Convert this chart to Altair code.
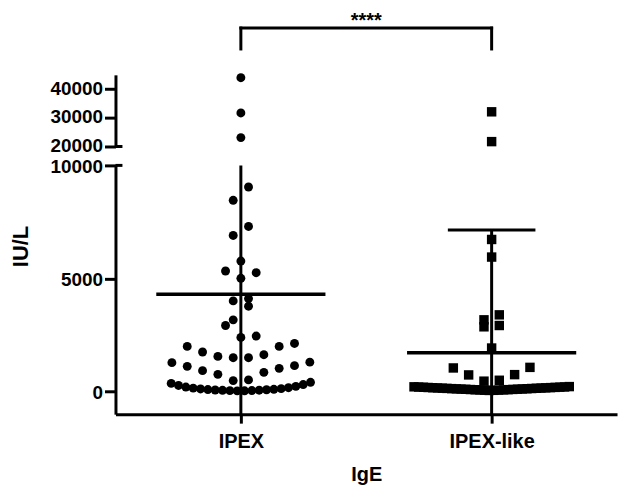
import json
import altair as alt
import pandas as pd

# ---------------- data ----------------
groups = ["IPEX", "IPEX-like"]
ipex_values = [
    44000, 31700, 23100,
    9044, 8458, 7300, 6903, 5771, 5330, 5256, 5009, 4110, 4009, 3775, 3172,
    2921, 2454, 2392, 2128, 1996, 1996, 1749, 1630, 1555, 1498, 1498,
    1300, 1278, 1145, 1115, 1026, 925, 850, 762, 515, 485,
    410, 360, 310, 270, 230, 200, 170, 150, 130, 115, 100, 90, 80, 70,
    60, 55, 45, 40, 35, 30,
]
ipex_like_values = [
    32100, 21700,
    6725, 5947, 3392, 3172, 2921, 2863, 1925, 1070, 1044, 749, 736, 500, 460,
    220, 210, 205, 200, 195, 190, 185, 180, 175, 170, 165, 160, 155, 150,
    145, 140, 135, 130, 125, 120, 115, 110, 105, 100, 95, 90, 85, 80, 75,
    70, 65, 60, 55, 50,
]
group_means = [4300, 1720]
group_sds = [9000, 5420]
upper_ticks = [20000, 30000, 40000]
lower_ticks = [0, 5000, 10000]
significance = "****"

# ---------------- layout constants ----------------
W = 504
H_UP, H_LOW = 72, 250
UP_DOM = [20000, 45000]
LOW_DOM = [-1000, 10000]
X_DOM = [-0.5, 1.5]
PX_PER_X = W / (X_DOM[1] - X_DOM[0])
ROW_PX = 20            # height of a swarm row, in pixels
ROW_ORIGIN = -440      # value where the lower swarm rows start
DOT_STEP_PX = 15.4     # horizontal step between dots of a row
MAX_HALF_PX = [70, 78]  # half-width limit of a row, per group
MEAN_HALF = 85 / PX_PER_X
CAP_HALF = 44 / PX_PER_X
FONT = "Liberation Sans"


def row_of(v):
    if v >= UP_DOM[0]:
        py = (v - UP_DOM[0]) * H_UP / (UP_DOM[1] - UP_DOM[0])
        return ("up", int(py // ROW_PX))
    py = (v - ROW_ORIGIN) * H_LOW / (LOW_DOM[1] - LOW_DOM[0])
    return ("low", int(py // ROW_PX))


def swarm(values, gi):
    rows = {}
    for v in values:
        rows.setdefault(row_of(v), []).append(v)
    out = []
    for key, vals in rows.items():
        vals = sorted(vals)
        n = len(vals)
        step = min(DOT_STEP_PX, 2 * MAX_HALF_PX[gi] / (n - 1)) if n > 1 else 0
        if n % 2:
            slots = [0] + [s for k in range(1, n) for s in (k, -k)]
        else:
            slots = [s for k in range(n // 2) for s in (-(k + 0.5), k + 0.5)]
        for v, s in zip(vals, slots[:n]):
            out.append({"group": groups[gi], "value": v,
                        "x": gi + s * step / PX_PER_X, "segment": key[0]})
    return out


rows = swarm(ipex_values, 0) + swarm(ipex_like_values, 1)
pts = pd.DataFrame(rows)
pts_up = pts[pts.segment == "up"]
pts_low = pts[pts.segment == "low"]

stats = pd.DataFrame({
    "group": groups,
    "x": list(range(len(groups))),
    "value": group_means,
})
stats["lo"] = stats["value"] - pd.Series(group_sds)
stats["hi"] = stats["value"] + pd.Series(group_sds)
stats["xl"] = stats["x"] - MEAN_HALF
stats["xr"] = stats["x"] + MEAN_HALF
stats["cl"] = stats["x"] - CAP_HALF
stats["cr"] = stats["x"] + CAP_HALF

i0, i1 = groups.index("IPEX"), groups.index("IPEX-like")
bracket = pd.DataFrame({"x": [i0], "x2": [i1], "mid": [(i0 + i1) / 2]})
legs = pd.DataFrame({"x": [i0, i1]})

xs = alt.Scale(domain=X_DOM, nice=False, zero=False)
ys_up = alt.Scale(domain=UP_DOM, nice=False, zero=False)
ys_low = alt.Scale(domain=LOW_DOM, nice=False, zero=False)

x_axis = alt.Axis(
    values=list(range(len(groups))),
    labelExpr=f"{json.dumps(groups)}[datum.value]",
    title="IgE", tickSize=9, labelPadding=8, titlePadding=14,
    labelFontSize=20, titleFontSize=20,
)
y_axis_low = alt.Axis(
    values=lower_ticks, format="d", title="IU/L", titleX=-95, titleY=81,
    titleBaseline="middle", titleAlign="center", titleAngle=-90, titleFontSize=22,
    tickSize=11, labelPadding=2, labelFontSize=19, labelOffset=1,
)
y_axis_up = alt.Axis(
    values=upper_ticks, format="d", title=None,
    tickSize=11, labelPadding=2, labelFontSize=19, labelOffset=-1,
)

shape_enc = alt.Shape("group:N", scale=alt.Scale(domain=groups, range=["circle", "square"]), legend=None)
size_enc = alt.Size("group:N", scale=alt.Scale(domain=groups, range=[80, 90]), legend=None)


def panel(df_pts, ys, yaxis, xaxis, break_value, upper):
    X = lambda f: alt.X(f, scale=xs, axis=xaxis)
    Y = lambda f: alt.Y(f, scale=ys, axis=yaxis)
    layers = [
        alt.Chart(df_pts).mark_point(filled=True, opacity=1, color="black", strokeWidth=0)
        .encode(x=X("x:Q"), y=Y("value:Q"), shape=shape_enc, size=size_enc),
        alt.Chart(stats).mark_rule(color="black", strokeWidth=3.5, clip=True)
        .encode(x=X("xl:Q"), x2="xr:Q", y=Y("value:Q")),
        alt.Chart(stats).mark_rule(color="black", strokeWidth=3, clip=True)
        .encode(x=X("x:Q"), y=Y("lo:Q"), y2="hi:Q"),
        alt.Chart(stats).mark_rule(color="black", strokeWidth=3, clip=True)
        .encode(x=X("cl:Q"), x2="cr:Q", y=Y("hi:Q")),
        alt.Chart(pd.DataFrame({"value": [break_value]})).mark_rule(color="black", strokeWidth=3)
        .encode(y=Y("value:Q"), x=alt.value(0), x2=alt.value(7)),
    ]
    if upper:
        layers += [
            alt.Chart(bracket).mark_rule(color="black", strokeWidth=3, strokeCap="square")
            .encode(x=X("x:Q"), x2="x2:Q", y=alt.value(-47)),
            alt.Chart(legs).mark_rule(color="black", strokeWidth=3, strokeCap="square")
            .encode(x=X("x:Q"), y=alt.value(-47), y2=alt.value(-26)),
            alt.Chart(bracket).mark_text(text=significance, font=FONT, fontWeight="bold",
                                         fontSize=20, baseline="alphabetic", color="black")
            .encode(x=X("mid:Q"), y=alt.value(-48)),
        ]
    return alt.layer(*layers)


upper = panel(pts_up, ys_up, y_axis_up, None, UP_DOM[0], True).properties(width=W, height=H_UP)
lower = panel(pts_low, ys_low, y_axis_low, x_axis, LOW_DOM[1], False).properties(width=W, height=H_LOW)

chart = (
    alt.vconcat(upper, lower, spacing=19, bounds="flush")
    .properties(padding={"left": 2, "top": 2, "right": 5, "bottom": 0})
    .configure_view(stroke=None)
    .configure_axis(
        domainColor="black", tickColor="black", labelColor="black", titleColor="black",
        labelFont=FONT, titleFont=FONT, labelFontWeight="bold", titleFontWeight="bold",
        grid=False, domainWidth=3, tickWidth=3,
    )
)

chart.save("out.html", embed_options={"renderer": "svg", "actions": False})
